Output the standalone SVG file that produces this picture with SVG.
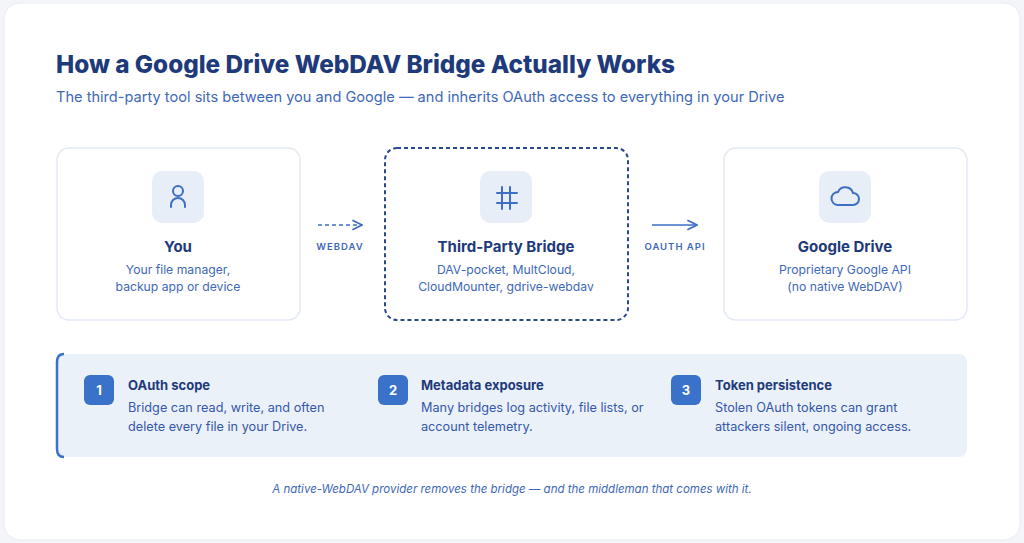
<svg xmlns="http://www.w3.org/2000/svg" width="1024" height="543" viewBox="0 0 1024 543">
<defs>
<style>
text{font-family:Inter,"Liberation Sans",sans-serif}
.card{fill:#fff;stroke:#e3e9f4;stroke-width:1.5}
.ibox{fill:#e8eef8}
.ttl{font-size:15px;font-weight:700;fill:#1e3a7a;text-anchor:middle}
.sub{font-size:12.2px;fill:#3e68b8;text-anchor:middle}
.lbl{font-size:9.5px;font-weight:600;fill:#3e68b8;letter-spacing:1px;text-anchor:middle}
.ico{fill:none;stroke:#3e6fc4;stroke-width:2;stroke-linecap:round}
.num{fill:#3a72c9}
.nt{font-size:13px;font-weight:700;fill:#fff;text-anchor:middle}
.h{font-size:13px;font-weight:700;fill:#1e3a7a}
.b{font-size:12.7px;fill:#3558a8}
.conn{stroke:#3e6fc4;stroke-width:1.5;fill:none}
</style>
<marker id="ar" viewBox="0 0 10 10" refX="9" refY="5" markerWidth="8" markerHeight="8" orient="auto"><path d="M1 1L9 5L1 9" fill="none" stroke="#3e6fc4" stroke-width="1.5"/></marker>
</defs>
<rect x="0" y="0" width="1024" height="543" fill="#f3f5f9"/>
<rect x="4" y="3" width="1016" height="537" rx="16" fill="#fff" stroke="#e8ecf2"/>
<text x="56" y="73" font-size="24.3" font-weight="800" fill="#1e3a7a">How a Google Drive WebDAV Bridge Actually Works</text>
<text x="56" y="102" font-size="14.6" fill="#3e68b8">The third-party tool sits between you and Google — and inherits OAuth access to everything in your Drive</text>
<g id="you">
<rect class="card" x="57" y="148" width="243" height="172" rx="12"/>
<rect class="ibox" x="152" y="171" width="52" height="52" rx="10"/>
<circle class="ico" cx="178" cy="191" r="5"/><path class="ico" d="M171 207v-2a7 7 0 0 1 14 0v2"/>
<text class="ttl" x="178" y="252">You</text>
<text class="sub" x="178" y="274">Your file manager,</text>
<text class="sub" x="178" y="291">backup app or device</text>
</g>
<g id="bridge">
<rect x="385" y="148" width="243" height="172" rx="12" fill="#fff" stroke="#2a4a8e" stroke-width="2" stroke-dasharray="4 3"/>
<rect class="ibox" x="480" y="171" width="52" height="52" rx="10"/>
<path class="ico" stroke="#2a4a8e" d="M502 187v22M510 187v22M497 193h20M497 203h20"/>
<text class="ttl" x="506" y="252">Third-Party Bridge</text>
<text class="sub" x="506" y="274">DAV-pocket, MultCloud,</text>
<text class="sub" x="506" y="291">CloudMounter, gdrive-webdav</text>
</g>
<g id="drive">
<rect class="card" x="724" y="148" width="243" height="172" rx="12"/>
<rect class="ibox" x="819" y="171" width="52" height="52" rx="10"/>
<path class="ico" d="M838 205h15a6 6 0 0 0 0-12a8 8 0 0 0-15-1a6.5 6.5 0 0 0 0 13z"/>
<text class="ttl" x="845" y="252">Google Drive</text>
<text class="sub" x="845" y="274">Proprietary Google API</text>
<text class="sub" x="845" y="291">(no native WebDAV)</text>
</g>
<g id="connectors">
<path class="conn" d="M318 225H362" stroke-dasharray="4 3" marker-end="url(#ar)"/>
<text class="lbl" x="340" y="250">WEBDAV</text>
<path class="conn" d="M652 225H697" marker-end="url(#ar)"/>
<text class="lbl" x="675" y="250">OAUTH API</text>
</g>
<g id="risks">
<rect x="56" y="354" width="911" height="103" rx="8" fill="#ebf1f9"/>
<path d="M64 354Q57 354 57 362V449Q57 457 64 457" fill="none" stroke="#3a72c9" stroke-width="2.5"/>
<rect class="num" x="84" y="375" width="30" height="30" rx="6"/><text class="nt" x="99" y="395">1</text>
<text class="h" x="128" y="390">OAuth scope</text>
<text class="b" x="128" y="412">Bridge can read, write, and often</text>
<text class="b" x="128" y="431">delete every file in your Drive.</text>
<rect class="num" x="378" y="375" width="30" height="30" rx="6"/><text class="nt" x="393" y="395">2</text>
<text class="h" x="421" y="390">Metadata exposure</text>
<text class="b" x="421" y="412">Many bridges log activity, file lists, or</text>
<text class="b" x="421" y="431">account telemetry.</text>
<rect class="num" x="671" y="375" width="30" height="30" rx="6"/><text class="nt" x="686" y="395">3</text>
<text class="h" x="715" y="390">Token persistence</text>
<text class="b" x="715" y="412">Stolen OAuth tokens can grant</text>
<text class="b" x="715" y="431">attackers silent, ongoing access.</text>
</g>
<text x="512" y="493" font-size="11.5" font-style="italic" fill="#3e68b8" text-anchor="middle">A native-WebDAV provider removes the bridge — and the middleman that comes with it.</text>
</svg>
